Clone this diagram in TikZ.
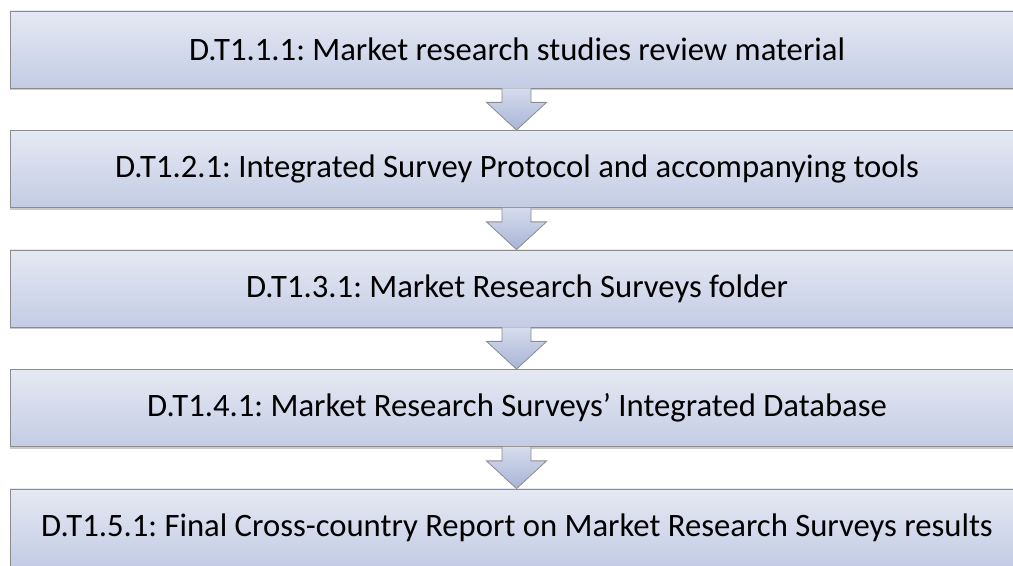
\documentclass[tikz,border=0pt]{standalone}
\usepackage{fontspec}
\setmainfont{Carlito}
\frenchspacing
\usetikzlibrary{positioning,shadows}
\definecolor{boxtop}{RGB}{229,233,243}
\definecolor{boxbot}{RGB}{195,204,228}
\definecolor{arrtop}{RGB}{214,220,237}
\definecolor{arrbot}{RGB}{168,180,214}
\definecolor{edgegray}{RGB}{140,140,140}
\tikzstyle{stepbox}=[draw=edgegray,line width=0.8bp,top color=boxtop,bottom color=boxbot,minimum width=1040bp,minimum height=77bp,inner sep=0pt,drop shadow={shadow xshift=0bp,shadow yshift=-2.5bp,opacity=0.35,fill=black!60}]
\tikzstyle{steptext}=[font=\fontsize{32.8}{38}\selectfont]

\begin{document}
\begin{tikzpicture}[x=1bp,y=1bp,node distance=119.5bp,on grid]
	\tikzstyle{flowarrow}=[draw=edgegray,line width=0.8bp,top color=arrtop,bottom color=arrbot,line join=miter]
	\useasboundingbox (0,0) rectangle (1013,566);
	\clip (0,0) rectangle (1013,566);

	% boxes run off the right edge; text is centred on the arrow axis
	\node[stepbox] (d1) at (530,516.5) {};
	\node[stepbox] (d2) [below=of d1] {};
	\node[stepbox] (d3) [below=of d2] {};
	\node[stepbox] (d4) [below=of d3] {};
	\node[stepbox] (d5) [below=of d4] {};

	\node[steptext] (t1) at ([xshift=-13bp]d1.center) {D.T1.1.1: Market research studies review material};
	\node[steptext] (t2) at ([xshift=-13bp]d2.center) {D.T1.2.1: Integrated Survey Protocol and accompanying tools};
	\node[steptext] (t3) at ([xshift=-13bp]d3.center) {D.T1.3.1: Market Research Surveys folder};
	\node[steptext] (t4) at ([xshift=-13bp]d4.center) {D.T1.4.1: Market Research Surveys’ Integrated Database};
	\node[steptext] (t5) at ([xshift=-13bp]d5.center) {D.T1.5.1: Final Cross-country Report on Market Research Surveys results};

\foreach \a/\b in {d1/d2,d2/d3,d3/d4,d4/d5}
	\path[flowarrow] ([xshift=-28bp]\a.south) -- ([xshift=-28bp,yshift=-14bp]\a.south)
		-- ([xshift=-43.5bp,yshift=-14bp]\a.south) -- ([xshift=-13.5bp]\b.north)
		-- ([xshift=16.5bp,yshift=-14bp]\a.south) -- ([xshift=1bp,yshift=-14bp]\a.south)
		-- ([xshift=1bp]\a.south);

\end{tikzpicture}
\end{document}
